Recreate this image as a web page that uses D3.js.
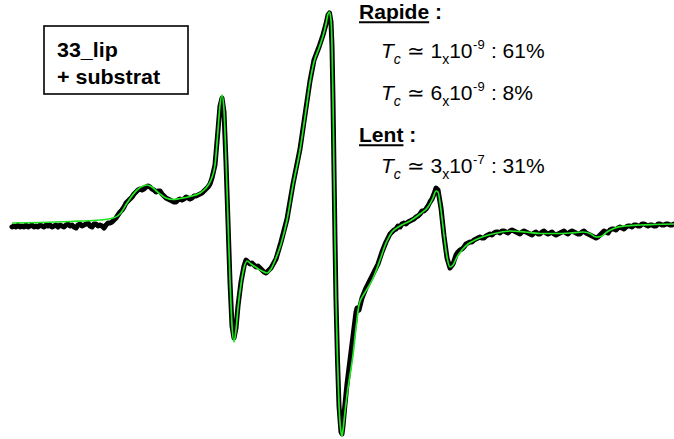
<!DOCTYPE html>
<html>
<head>
<meta charset="utf-8">
<script src="https://cdn.jsdelivr.net/npm/d3@7"></script>
<style>
  html, body { margin: 0; padding: 0; background: #fff; }
  svg { display: block; }
  text { font-family: "Liberation Sans", Arial, sans-serif; fill: #000; }
</style>
</head>
<body>
<svg id="chart" width="674" height="439"></svg>
<script>
// EPR spectrum, magnetic field in gauss, intensity in arbitrary units
const fieldRange = [3300, 3631];
const intensityRange = [-106, 106];

// Recorded spectrum: [field (G), intensity (a.u.)]
const experimental = [
  [3300,-1.5],[3301,-1],[3302,-1.5],[3303,-0.5],[3304,-1.5],[3305,-1],[3306,-1.5],[3307,-0.5],
  [3308,-1.5],[3309,-1],[3310,-0.5],[3311,-1.5],[3312,-1],[3313,-1.5],[3314,-0.5],[3315,-1],
  [3316,-1.5],[3317,-0.5],[3318,-1],[3319,-0.5],[3320,-1.5],[3321,-1],[3322,-0.5],[3323,-1.5],
  [3324,-0.5],[3325,-1],[3326,-1.5],[3327,-0.5],[3328,0],[3329,-1],[3330,-0.5],[3331,-1.5],
  [3332,-2],[3333,-0.5],[3334,0],[3335,-1],[3336,-0.5],[3337,0],[3338,0.5],[3339,-1],
  [3340,-1.5],[3341,0],[3342,0],[3343,-1],[3344,-0.5],[3345,-1],[3346,-2],[3347,-0.5],
  [3348,0.5],[3349,0.5],[3350,1],[3351,2],[3352,3],[3353,4.5],[3354,6],[3355,7],[3356,8.5],
  [3357,10.5],[3358,11.5],[3359,12.5],[3360,13.5],[3361,15],[3362,16],[3363,17],[3364,17.5],
  [3365,17],[3366,17.5],[3367,18.5],[3368,19],[3369,18.5],[3370,17.5],[3371,17],[3372,16],
  [3373,16.5],[3374,16.5],[3375,15],[3376,14],[3377,13],[3378,12.5],[3379,12],[3380,11.5],
  [3381,11],[3382,11],[3383,12],[3384,12.5],[3385,12],[3386,12.5],[3387,13.5],[3388,13],
  [3389,12.5],[3390,13],[3391,14],[3392,14],[3393,14.5],[3394,15],[3395,15.5],[3396,16.5],
  [3397,17.5],[3398,18.5],[3399,20],[3400,23],[3401.5,29.5],[3403,47],[3404,59],[3405,63],
  [3406,56],[3407,31],[3408,1],[3409,-29],[3410,-51],[3411,-57],[3412,-52],[3413,-41],
  [3414.5,-29],[3416,-21],[3417,-18],[3418,-19],[3419,-20],[3420,-19.5],[3421,-20.5],
  [3422,-21.5],[3423,-21],[3424,-22],[3425,-23],[3426,-24],[3427,-24.5],[3428,-23.5],
  [3429.5,-22],[3432,-17.5],[3434.5,-9],[3437.5,2.5],[3440.5,20],[3444,37.5],
  [3447,58],[3449,71.5],[3451,82],[3453.5,88.5],[3455.5,94.5],[3457,100],[3458,104.5],
  [3458.75,105.5],[3459.5,101],[3460,89],[3460.5,62],[3461,27],[3461.5,-8],[3462,-38],
  [3462.75,-68],[3463.5,-91],[3464.5,-104],[3465,-105],[3465.5,-101],[3466.5,-90],
  [3467.5,-80],[3469,-68],[3470.5,-56],[3472,-44],[3472.5,-42],[3473.5,-43],[3475,-37],
  [3477,-32],[3479,-28],[3481,-24],[3483,-20],[3485,-14],[3487,-9],[3489,-5],[3490,-4],
  [3491,-3],[3492,-2.5],[3493,-1],[3494,-1.5],[3495,0],[3496,0.5],[3497,0],[3498,1],
  [3499,1.5],[3500,2],[3501,2.5],[3502,3.5],[3503,4],[3504,5],[3505,6.5],[3506,6.5],
  [3507,7.5],[3508,9],[3509,11],[3510,12.5],[3511,15],[3512,18],[3513,17],[3514.5,8],
  [3516,-6],[3517.5,-17],[3519,-22],[3520.5,-20],[3522,-15.5],[3523,-14],[3524,-13],
  [3525,-12.5],[3526,-11.5],[3527,-10],[3528,-9.5],[3529,-9],[3530,-9],[3531,-8],[3532,-7.5],
  [3533,-7],[3534,-6.5],[3535,-7],[3536,-7],[3537,-6],[3538,-5.5],[3539,-5],[3540,-5.5],
  [3541,-4.5],[3542,-4],[3543,-4],[3544,-4.5],[3545,-3.5],[3546,-3.5],[3547,-4],[3548,-4.5],
  [3549,-3.5],[3550,-3],[3551,-3.5],[3552,-4],[3553,-4.5],[3554,-5],[3555,-4],[3556,-3.5],
  [3557,-4],[3558,-4.5],[3559,-5],[3560,-5.5],[3561,-4.5],[3562,-4],[3563,-5],[3564,-5],
  [3565,-4],[3566,-3.5],[3567,-4.5],[3568,-5],[3569,-4.5],[3570,-4],[3571,-5],[3572,-5.5],
  [3573,-5],[3574,-4.5],[3575,-4],[3576,-3.5],[3577,-4.5],[3578,-5],[3579,-4],[3580,-3.5],
  [3581,-4],[3582,-4.5],[3583,-5],[3584,-5],[3585,-4],[3586,-3.5],[3587,-4.5],[3588,-5],
  [3589,-5.5],[3590,-6],[3591,-6.5],[3592,-7],[3593,-6.5],[3594,-5.5],[3595,-4.5],
  [3596,-3.5],[3597,-4],[3598,-4.5],[3599,-3],[3600,-2.5],[3601,-2.5],[3602,-3],[3603,-2],
  [3604,-1.5],[3605,-2],[3606,-2.5],[3607,-1.5],[3608,-1],[3609,-1],[3610,-1.5],[3611,-0.5],
  [3612,-0.5],[3613,-1],[3614,-1],[3615,0],[3616,0],[3617,-0.5],[3618,-1],[3619,-0.5],
  [3620,-0.5],[3621,-1],[3622,-1],[3623,0],[3624,0],[3625,-0.5],[3626,-0.5],[3627,0],
  [3628,0],[3629,-0.5],[3630,-0.5],[3631,0]
];

// Simulated spectrum (three-component fit): [field (G), intensity (a.u.)]
const simulated = [
  [3300,0.5],[3314,0.75],[3329,1.25],[3344,2],[3350.5,3],[3354,5],[3357.5,10.5],[3362.5,17],
  [3365.5,19],[3367.5,19.5],[3370,18.5],[3372.5,16.25],[3377,13],[3380.5,12.25],[3384,12.75],
  [3389,13.75],[3394,15.5],[3397,18],[3399.5,22],[3401.5,29.5],[3403,47],[3404,59.5],
  [3405,64.5],[3406,57],[3407,32],[3408,2],[3409,-28],[3410,-50.5],[3411,-59],[3412,-53],
  [3413,-42],[3414.5,-30],[3416,-22],[3417.5,-18.5],[3419.5,-20],[3422.5,-22],[3425,-23.5],
  [3427.5,-24.5],[3429.5,-22.5],[3432,-17],[3434.5,-10],[3437.5,2],[3440.5,19.5],[3444,37],
  [3447,57],[3449,71],[3451,81],[3453.5,88],[3455.5,94],[3457,100],[3458,105],[3458.75,106],
  [3459.5,102],[3460,89.5],[3460.5,62],[3461,27],[3461.5,-8],[3462,-38],[3462.75,-68],
  [3463.5,-90.5],[3464.5,-104],[3465,-106],[3465.5,-103],[3466.5,-94],[3467.5,-85.5],
  [3469,-75.5],[3470.5,-65.5],[3472,-52],[3473.5,-40.5],[3476,-35],[3478.5,-31],[3481,-26],
  [3484,-18],[3487,-9.5],[3490,-4],[3494,-1],[3499,1.5],[3504,5],[3508,8.5],[3510.5,13],
  [3512,16.5],[3513,16],[3514.5,7],[3516,-5.5],[3517.5,-16.5],[3519,-21.5],[3520.5,-20.5],
  [3522.5,-16.5],[3525,-13],[3528,-10],[3531.5,-8],[3536.5,-6],[3542.5,-4.5],[3549,-3.5],
  [3556.5,-4],[3564,-4.75],[3571.5,-4.75],[3579,-4.5],[3585.5,-4],[3589,-4.75],[3592,-6.5],
  [3594.5,-6.25],[3597.5,-4],[3601.5,-2],[3606.5,-1],[3614,-0.5],[3621.5,-0.25],[3631,0]
];

// Sample label
const sampleLines = ["33_lip", "+ substrat"];

// Correlation-time components
const groupTitles = ["Rapide", "Lent"];
const tauMantissa = ["1", "6", "3"];
const tauExponent = ["-9", "-9", "-7"];
const tauShare = ["61%", "8%", "31%"];

const svg = d3.select("#chart");

const x = d3.scaleLinear().domain(fieldRange).range([12, 674]);
const y = d3.scaleLinear().domain(intensityRange).range([436, 12]);

// recorded trace: thick, noisy black line
svg.append("path")
  .datum(experimental)
  .attr("d", d3.line().x(d => x(d[0])).y(d => y(d[1])).curve(d3.curveLinear))
  .attr("fill", "none")
  .attr("stroke", "#000")
  .attr("stroke-width", 5)
  .attr("stroke-linejoin", "round")
  .attr("stroke-linecap", "round");

// fitted simulation: thin green line on top
svg.append("path")
  .datum(simulated)
  .attr("d", d3.line().x(d => x(d[0])).y(d => y(d[1])).curve(d3.curveMonotoneX))
  .attr("fill", "none")
  .attr("stroke", "#22e622")
  .attr("stroke-width", 1.7)
  .attr("stroke-linejoin", "round");

// sample box
svg.append("rect")
  .attr("x", 44).attr("y", 26)
  .attr("width", 144).attr("height", 68)
  .attr("fill", "none")
  .attr("stroke", "#000")
  .attr("stroke-width", 1.6);

sampleLines.forEach((s, i) => {
  svg.append("g")
    .attr("transform", `translate(57,${57 + i * 26.5}) scale(1.1,1)`)
    .append("text")
    .attr("font-size", 19.5)
    .attr("font-weight", "bold")
    .text(s);
});

// group headers (underlined)
const headerY = [19, 142];
groupTitles.forEach((t, i) => {
  const g = svg.append("g")
    .attr("transform", `translate(359,${headerY[i]}) scale(1.08,1)`);
  const txt = g.append("text")
    .attr("font-size", 19.5)
    .attr("font-weight", "bold");
  txt.append("tspan").text(t);
  txt.append("tspan").text(" :");
  const w = txt.select("tspan").node().getComputedTextLength();
  g.append("line")
    .attr("x1", 0).attr("x2", w)
    .attr("y1", 3.2).attr("y2", 3.2)
    .attr("stroke", "#000").attr("stroke-width", 2);
});

// correlation time lines: Tc ≃ m x 10^e : share
const lineY = [58, 100, 172.5];
tauMantissa.forEach((m, i) => {
  const t = svg.append("text")
    .attr("x", 381)
    .attr("y", lineY[i])
    .attr("font-size", 21);
  t.append("tspan").attr("font-style", "italic").text("T");
  t.append("tspan").attr("font-style", "italic").attr("font-size", 14).attr("dy", 6).text("c");
  t.append("tspan").attr("dy", -6).text(" \u2243 " + m);
  t.append("tspan").attr("font-size", 14).attr("dy", 6).text("x");
  t.append("tspan").attr("dy", -6).text("10");
  t.append("tspan").attr("font-size", 13).attr("dy", -9).attr("dx", 0.5).text(tauExponent[i]);
  t.append("tspan").attr("dy", 9).attr("dx", 0.5).text(" : " + tauShare[i]);
});
</script>
</body>
</html>
